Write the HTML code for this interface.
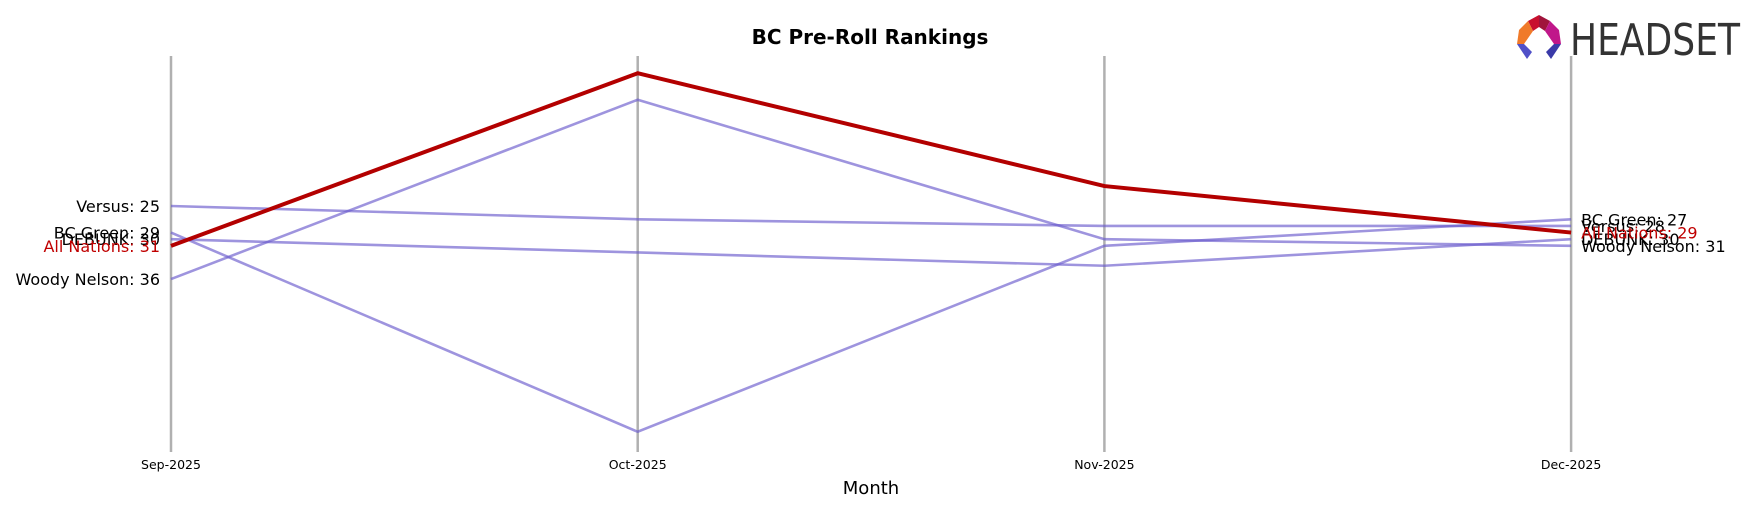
<!DOCTYPE html>
<html><head><meta charset="utf-8"><style>
html,body{margin:0;padding:0;background:#fff;}
svg text{font-family:"DejaVu Sans","Liberation Sans",sans-serif;}
</style></head><body>
<svg width="1754" height="507" viewBox="0 0 1754 507" xmlns="http://www.w3.org/2000/svg">
<rect width="1754" height="507" fill="#fff"/>
<text x="870" y="44" text-anchor="middle" font-size="20" font-weight="bold">BC Pre-Roll Rankings</text>
<g>
  <polygon points="1539,15 1528,21 1533,31 1539,27" fill="#c8102e"/>
  <polygon points="1539,15 1550,21 1545,31 1539,27" fill="#a0143c"/>
  <polygon points="1528,21 1519,30 1517,44 1524,44 1533,31" fill="#f07a2a"/>
  <polygon points="1550,21 1559,30 1561,44 1554,44 1545,31" fill="#c0178a"/>
  <polygon points="1517,44 1524,44 1532,52 1527,59" fill="#5050c8"/>
  <polygon points="1561,44 1554,44 1546,52 1551,59" fill="#3a3aa8"/>
  <text x="1570" y="55" font-size="44" fill="#333" textLength="170" lengthAdjust="spacingAndGlyphs" font-family="Liberation Sans">HEADSET</text>
</g>
<g id="axes"></g>
<g id="lines"></g>
<g id="labels"></g>
<text x="871" y="494" text-anchor="middle" font-size="18">Month</text>
<script>
const months = ["Sep-2025","Oct-2025","Nov-2025","Dec-2025"];
const brands = ["Versus","BC Green","DEBUNK","Woody Nelson","All Nations"];
const versusRanks = [25,27,28,28];
const bcGreenRanks = [29,59,31,27];
const debunkRanks = [30,32,34,30];
const woodyRanks = [36,9,30,31];
const allNationsRanks = [31,5,22,29];
const series = [versusRanks,bcGreenRanks,debunkRanks,woodyRanks,allNationsRanks];
const highlight = "All Nations";
const NS="http://www.w3.org/2000/svg";
const x0=171, dx=466.7;
function xs(i){return x0+i*dx;}
function ys(r){return 206+(r-25)*6.64;}
const axes=document.getElementById('axes');
months.forEach((m,i)=>{
  const l=document.createElementNS(NS,'line');
  l.setAttribute('x1',xs(i));l.setAttribute('x2',xs(i));l.setAttribute('y1',56);l.setAttribute('y2',452);
  l.setAttribute('stroke','#b0b0b0');l.setAttribute('stroke-width','2.5');
  
  
  axes.appendChild(l);
  const t=document.createElementNS(NS,'text');
  t.setAttribute('x',xs(i));t.setAttribute('y',469);t.setAttribute('text-anchor','middle');t.setAttribute('font-size','12.5');
  t.textContent=m;
  
  
  axes.appendChild(t);
});
const lines=document.getElementById('lines'), labels=document.getElementById('labels');
const order=brands.map((b,i)=>i).sort((a,b)=>(brands[a]===highlight)-(brands[b]===highlight));
order.forEach(k=>{
  const b=brands[k], v=series[k], hi=b===highlight;
  const p=document.createElementNS(NS,'polyline');
  p.setAttribute('points',v.map((r,i)=>xs(i)+','+ys(r)).join(' '));
  p.setAttribute('fill','none');
  p.setAttribute('stroke',hi?'#b30000':'rgba(106,90,205,0.65)');
  p.setAttribute('stroke-width',hi?'4':'2.6');
  
  
  lines.appendChild(p);
  [[0,'end',-11],[v.length-1,'start',10]].forEach(([i,anc,off])=>{
    const t=document.createElementNS(NS,'text');
    t.setAttribute('x',xs(i)+off);t.setAttribute('y',ys(v[i])+6);
    t.setAttribute('text-anchor',anc);t.setAttribute('font-size','16');
    t.setAttribute('fill',hi?'#c00000':'#000');
    t.textContent=b+': '+v[i];
    
    
    labels.appendChild(t);
  });
});
</script>
</svg>
</body></html>
